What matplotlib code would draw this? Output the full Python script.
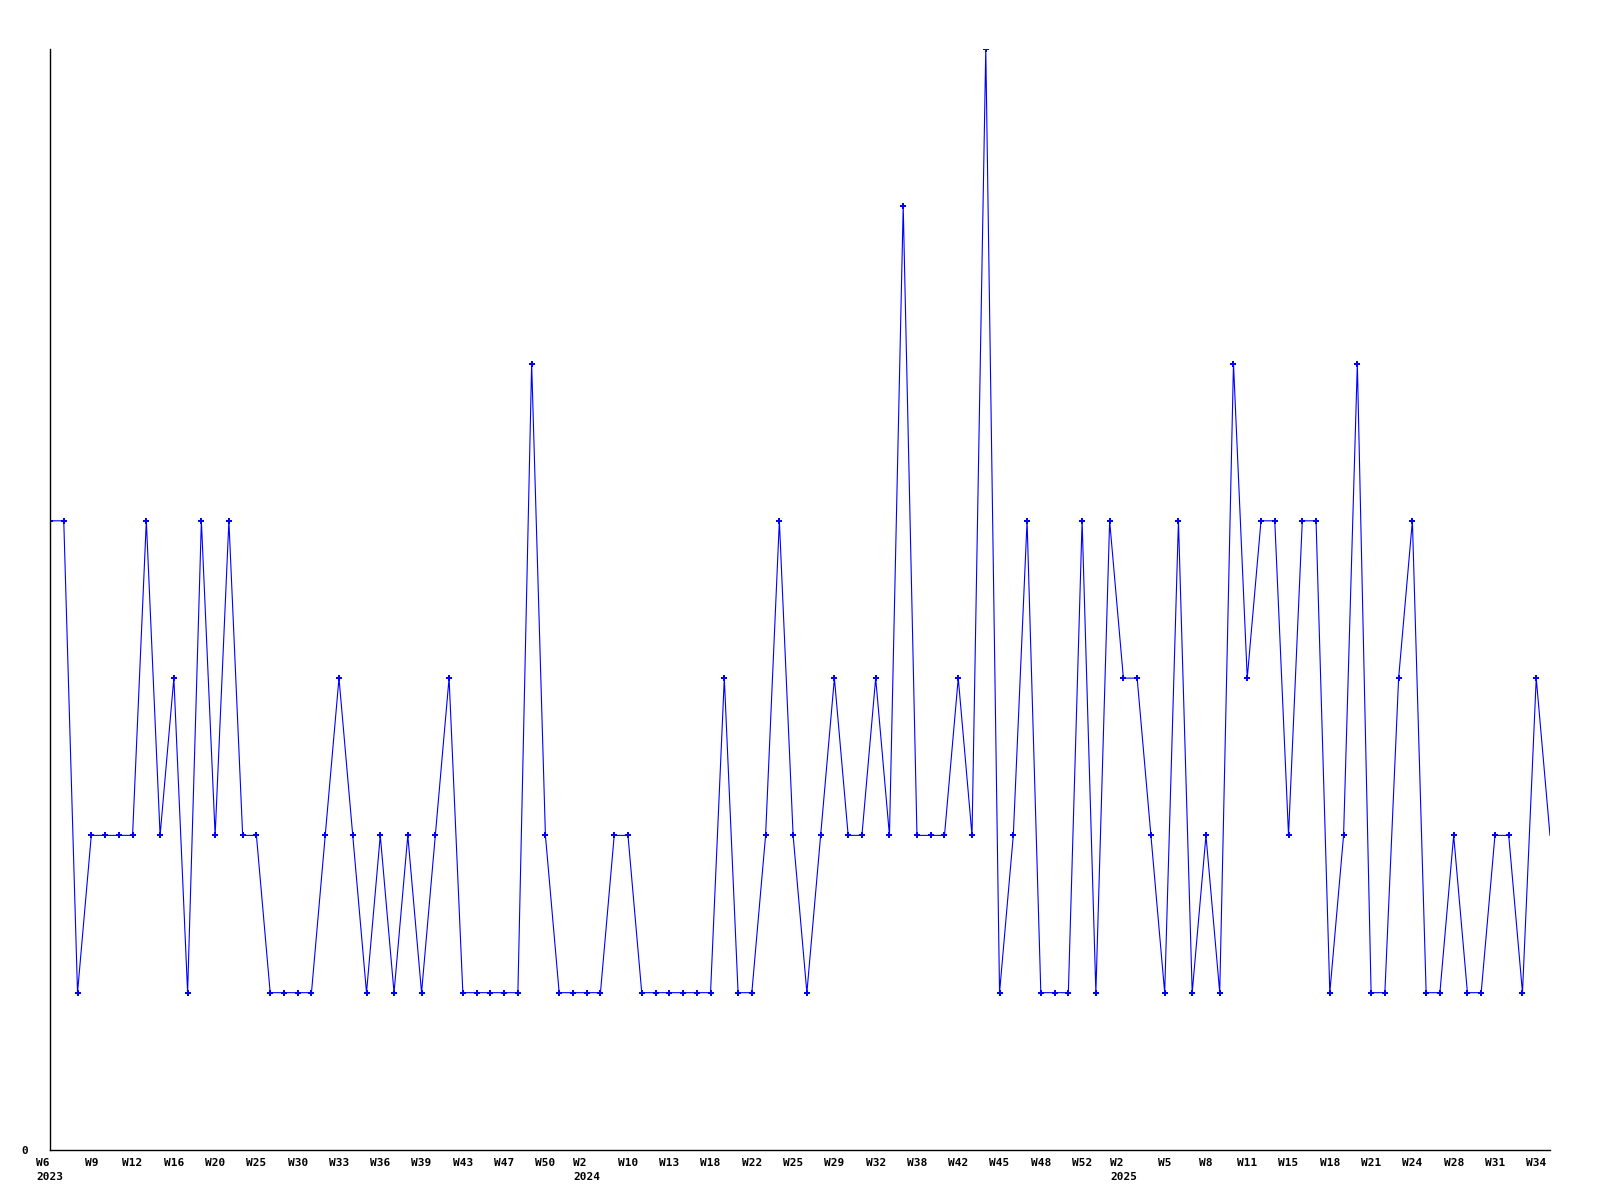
import matplotlib
matplotlib.use("Agg")
import matplotlib.pyplot as plt

# weekly counts, one value per reported week (weeks without data are skipped)
values = [
    4, 4, 1, 2, 2, 2, 2, 4, 2, 3, 1, 4, 2, 4, 2,
    2, 1, 1, 1, 1, 2, 3, 2, 1, 2, 1, 2, 1, 2, 3,
    1, 1, 1, 1, 1, 5, 2, 1, 1, 1, 1, 2, 2, 1, 1,
    1, 1, 1, 1, 3, 1, 1, 2, 4, 2, 1, 2, 3, 2, 2,
    3, 2, 6, 2, 2, 2, 3, 2, 7, 1, 2, 4, 1, 1, 1,
    4, 1, 4, 3, 3, 2, 1, 4, 1, 2, 1, 5, 3, 4, 4,
    2, 4, 4, 1, 2, 5, 1, 1, 3, 4, 1, 1, 2, 1, 1,
    2, 2, 1, 3, 2,
]

# a label is shown on every third point
tick_labels = [
    "W6\n2023", "W9", "W12", "W16", "W20", "W25", "W30", "W33", "W36", "W39",
    "W43", "W47", "W50", "W2\n2024", "W10", "W13", "W18", "W22", "W25", "W29",
    "W32", "W38", "W42", "W45", "W48", "W52", "W2\n2025", "W5", "W8", "W11",
    "W15", "W18", "W21", "W24", "W28", "W31", "W34",
]
tick_step = 3

x = list(range(len(values)))

fig = plt.figure(figsize=(16, 12), dpi=100)
ax = fig.add_axes([0.03125, 0.0417, 0.9375, 0.9175])

ax.plot(x, values, color="#0000ff", linewidth=0.8,
        marker="P", markersize=4.2, markeredgewidth=0,
        markevery=list(range(len(values) - 1)))

ax.set_xlim(0, len(values) - 1)
ax.set_ylim(0, 7)

ax.spines["top"].set_visible(False)
ax.spines["right"].set_visible(False)
ax.spines["left"].set_linewidth(1.0)
ax.spines["bottom"].set_linewidth(1.0)

ax.set_xticks([i * tick_step for i in range(len(tick_labels))])
ax.set_xticklabels(tick_labels, fontfamily="DejaVu Sans Mono",
                   fontweight="bold", fontsize=8, linespacing=1.45,
                   verticalalignment="top")
for lbl in ax.get_xticklabels():
    lbl.set_multialignment("left")
ax.set_yticks([0])
ax.set_yticklabels(["0"], fontfamily="DejaVu Sans Mono",
                   fontweight="bold", fontsize=8)
ax.tick_params(axis="x", length=0, pad=6)
ax.tick_params(axis="y", length=0, pad=16)

fig.savefig("out.png", dpi=100)
